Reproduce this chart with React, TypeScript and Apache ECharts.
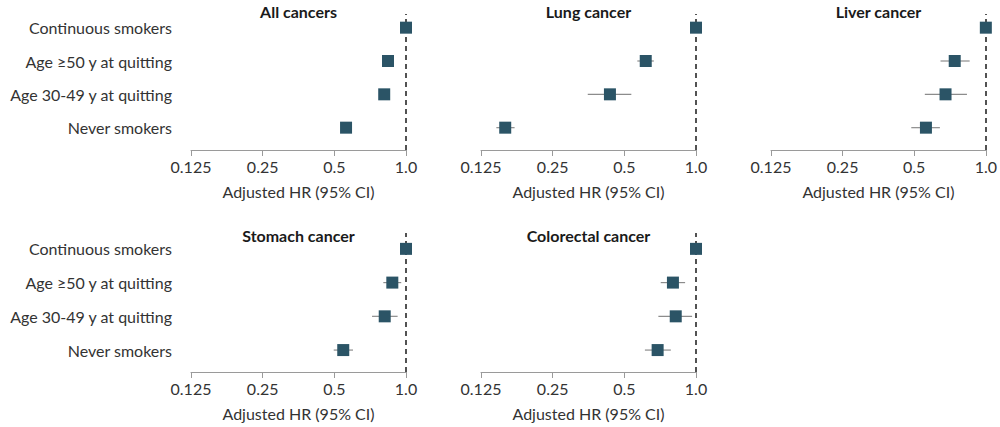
import React, { useEffect, useRef } from "react";
import * as echarts from "echarts";

// Rows, top to bottom
const categories = [
  "Continuous smokers",
  "Age ≥50 y at quitting",
  "Age 30-49 y at quitting",
  "Never smokers",
];

const panelTitles = ["All cancers", "Lung cancer", "Liver cancer", "Stomach cancer", "Colorectal cancer"];

// Hazard ratios per panel (row order as categories)
const hrAll = [1.0, 0.84, 0.81, 0.56];
const hrLung = [1.0, 0.615, 0.435, 0.158];
const hrLiver = [1.0, 0.74, 0.677, 0.56];
const hrStomach = [1.0, 0.876, 0.814, 0.545];
const hrColorectal = [1.0, 0.8, 0.822, 0.69];

// 95% CI lower / upper (null for reference group)
const loAll = [null, 0.825, 0.795, 0.545];
const hiAll = [null, 0.855, 0.825, 0.575];
const loLung = [null, 0.567, 0.351, 0.145];
const hiLung = [null, 0.665, 0.535, 0.173];
const loLiver = [null, 0.645, 0.554, 0.486];
const hiLiver = [null, 0.855, 0.833, 0.641];
const loStomach = [null, 0.803, 0.72, 0.497];
const hiStomach = [null, 0.955, 0.922, 0.599];
const loColorectal = [null, 0.711, 0.695, 0.61];
const hiColorectal = [null, 0.9, 0.963, 0.784];

const tickValues = [0.125, 0.25, 0.5, 1];
const tickLabels = ["0.125", "0.25", "0.5", "1.0"];
const axisTitle = "Adjusted HR (95% CI)";

const FONT = "Lato, 'Open Sans', sans-serif";
const TEXT = "#333333";
const MARK = "#2b5466";

export default function App() {
  const ref = useRef<HTMLDivElement>(null);

  useEffect(() => {
    if (!ref.current) return;
    const chart = echarts.init(ref.current, undefined, { renderer: "svg" });

    const hrs = [hrAll, hrLung, hrLiver, hrStomach, hrColorectal];
    const los = [loAll, loLung, loLiver, loStomach, loColorectal];
    const his = [hiAll, hiLung, hiLiver, hiStomach, hiColorectal];

    const layout = [
      { left: 191, top: 14, height: 136, ymin: -0.67, ymax: 3.41, titleY: 11, labels: true },
      { left: 481, top: 14, height: 136, ymin: -0.67, ymax: 3.41, titleY: 11, labels: false },
      { left: 771, top: 14, height: 136, ymin: -0.67, ymax: 3.41, titleY: 11, labels: false },
      { left: 191, top: 233, height: 139, ymin: -0.65, ymax: 3.47, titleY: 235, labels: true },
      { left: 481, top: 233, height: 139, ymin: -0.65, ymax: 3.47, titleY: 235, labels: false },
    ];
    const W = 215;
    const n = categories.length;

    const fmtTick = (v: number) => {
      let best = 0;
      for (let i = 0; i < tickValues.length; i++) {
        if (Math.abs(tickValues[i] - v) < Math.abs(tickValues[best] - v)) best = i;
      }
      return tickLabels[best];
    };

    const grid: any[] = [];
    const xAxis: any[] = [];
    const yAxis: any[] = [];
    const series: any[] = [];
    const graphic: any[] = [];

    layout.forEach((p, i) => {
      grid.push({ left: p.left, top: p.top, width: W, height: p.height });
      xAxis.push({
        type: "log",
        logBase: 2,
        min: 0.125,
        max: 1,
        gridIndex: i,
        position: "bottom",
        axisLine: { show: true, onZero: false, lineStyle: { color: "#9a9a9a", width: 1 } },
        axisTick: { show: true, length: 6, lineStyle: { color: "#9a9a9a" } },
        splitLine: { show: false },
        minorTick: { show: false },
        axisLabel: { formatter: fmtTick, fontSize: 16, color: TEXT, margin: 8, fontFamily: FONT },
        name: axisTitle,
        nameLocation: "middle",
        nameGap: 33,
        nameTextStyle: { fontSize: 16, color: TEXT, fontFamily: FONT, verticalAlign: "top" },
      });
      yAxis.push({
        type: "value",
        gridIndex: i,
        min: p.ymin,
        max: p.ymax,
        axisLine: { show: false },
        axisTick: { show: false },
        splitLine: { show: false },
        axisLabel: {
          show: p.labels,
          customValues: [0, 1, 2, 3],
          formatter: (v: number) => categories[n - 1 - Math.round(v)],
          fontSize: 16,
          color: TEXT,
          margin: 19,
          fontFamily: FONT,
        },
      });

      const ciData: any[] = [];
      const ptData: any[] = [];
      hrs[i].forEach((hr, r) => {
        const yv = n - 1 - r;
        ptData.push([hr, yv]);
        const lo = los[i][r];
        const hi = his[i][r];
        if (lo != null && hi != null) ciData.push([lo, hi, yv]);
      });

      series.push({
        type: "custom",
        xAxisIndex: i,
        yAxisIndex: i,
        data: ciData,
        encode: { x: [0, 1], y: 2 },
        z: 2,
        renderItem: (_params: any, api: any) => {
          const a = api.coord([api.value(0), api.value(2)]);
          const b = api.coord([api.value(1), api.value(2)]);
          return {
            type: "line",
            shape: { x1: a[0], y1: a[1], x2: b[0], y2: b[1] },
            style: { stroke: "#8c8c8c", lineWidth: 1.2 },
          };
        },
        markLine: {
          silent: true,
          symbol: "none",
          label: { show: false },
          lineStyle: { type: [5, 4], color: "#1a1a1a", width: 1.5 },
          data: [{ xAxis: 1 }],
        },
      });
      series.push({
        type: "scatter",
        xAxisIndex: i,
        yAxisIndex: i,
        symbol: "rect",
        symbolSize: 12,
        itemStyle: { color: MARK, opacity: 1 },
        z: 5,
        data: ptData,
      });

      graphic.push({
        type: "text",
        x: p.left + W / 2,
        y: p.titleY,
        style: {
          text: panelTitles[i],
          fill: "#1a1a1a",
          font: `bold 16px ${FONT}`,
          textAlign: "center",
          textVerticalAlign: "middle",
        },
      });
    });

    chart.setOption({
      animation: false,
      textStyle: { fontFamily: FONT },
      grid,
      xAxis,
      yAxis,
      series,
      graphic,
    });

    return () => chart.dispose();
  }, []);

  return (
    <div
      ref={ref}
      style={{ position: "fixed", left: 0, top: 0, width: 1000, height: 427, background: "#fff" }}
    />
  );
}
